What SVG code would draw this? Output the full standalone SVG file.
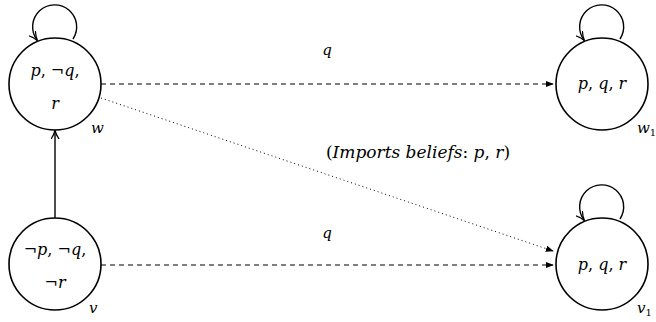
<svg xmlns="http://www.w3.org/2000/svg" width="656" height="322" viewBox="0 0 656 322">
<style>
.node{fill:#fff;stroke:#000;stroke-width:1.6}
.loop{fill:none;stroke:#000;stroke-width:1.4}
.t{font-family:"DejaVu Serif","Liberation Serif",serif;font-size:16px;font-style:italic;fill:#000;text-anchor:middle}
.n{font-style:normal}
.lbl{font-family:"DejaVu Serif","Liberation Serif",serif;font-size:15px;font-style:italic;fill:#000}
.big{font-size:17px}
.sub{font-size:10px;font-style:normal}
.solid{fill:none;stroke:#000;stroke-width:1.4}
.dash{fill:none;stroke:#000;stroke-width:1;stroke-dasharray:5,4}
.dot{fill:none;stroke:#000;stroke-width:1;stroke-dasharray:1,3}
</style>
<defs>
<marker id="ah" viewBox="0 0 10 10" refX="9" refY="5" markerWidth="8" markerHeight="8" markerUnits="userSpaceOnUse" orient="auto">
<path d="M0,1 L10,5 L0,9 Z" fill="#000"/>
</marker>
<marker id="ahs" viewBox="0 0 10 10" refX="9" refY="5" markerWidth="9" markerHeight="9" markerUnits="userSpaceOnUse" orient="auto">
<path d="M0,0.5 Q5,4 10,5 Q5,6 0,9.5" fill="none" stroke="#000" stroke-width="1.4"/>
</marker>
</defs>
<g id="connectors">
<line class="solid" x1="55" y1="219" x2="55" y2="131" marker-end="url(#ahs)"/>
<line class="dash" x1="101" y1="84" x2="553" y2="84" marker-end="url(#ah)"/>
<line class="dash" x1="101" y1="265" x2="553" y2="265" marker-end="url(#ah)"/>
<line class="dot" x1="101" y1="98" x2="553" y2="251" marker-end="url(#ah)"/>
<text class="lbl" x="327" y="55" text-anchor="middle">q</text>
<text class="lbl" x="327" y="238" text-anchor="middle">q</text>
<text class="lbl big" x="418" y="158" text-anchor="middle"><tspan class="n">(</tspan>Imports beliefs<tspan class="n">:</tspan> p<tspan class="n">,</tspan> r<tspan class="n">)</tspan></text>
</g>
<g id="node-w">
<path class="loop" d="M73,39 A22,22 0 1 0 37,40" marker-end="url(#ahs)"/>
<circle class="node" cx="55" cy="84" r="46"/>
<text class="t" x="55" y="76">p<tspan class="n">, ¬</tspan>q<tspan class="n">,</tspan></text>
<text class="t" x="55" y="109">r</text>
<text class="lbl" x="91" y="133">w</text>
</g>
<g id="node-v">
<circle class="node" cx="55" cy="264" r="46"/>
<text class="t" x="55" y="255"><tspan class="n">¬</tspan>p<tspan class="n">, ¬</tspan>q<tspan class="n">,</tspan></text>
<text class="t" x="55" y="288"><tspan class="n">¬</tspan>r</text>
<text class="lbl" x="89" y="313">v</text>
</g>
<g id="node-w1">
<path class="loop" d="M620,39 A22,22 0 1 0 584,40" marker-end="url(#ahs)"/>
<circle class="node" cx="602" cy="84" r="46"/>
<text class="t" x="602" y="89">p<tspan class="n">, </tspan>q<tspan class="n">, </tspan>r</text>
<text class="lbl" x="637" y="133">w<tspan class="sub" dy="3">1</tspan></text>
</g>
<g id="node-v1">
<path class="loop" d="M620,219 A22,22 0 1 0 584,220" marker-end="url(#ahs)"/>
<circle class="node" cx="602" cy="264" r="46"/>
<text class="t" x="602" y="270">p<tspan class="n">, </tspan>q<tspan class="n">, </tspan>r</text>
<text class="lbl" x="637" y="313">v<tspan class="sub" dy="3">1</tspan></text>
</g>
</svg>
